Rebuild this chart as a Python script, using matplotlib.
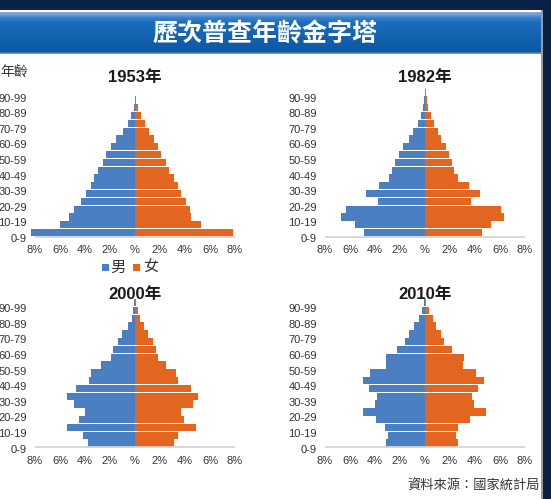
import numpy as np
import matplotlib
matplotlib.use("Agg")
import matplotlib.pyplot as plt
from matplotlib.patches import Rectangle

W, H = 551, 499

# ---------------- data ----------------
age_labels = ['0-9', '10-19', '20-29', '30-39', '40-49',
              '50-59', '60-69', '70-79', '80-89', '90-99']
x_tick_values = [-8, -6, -4, -2, 0, 2, 4, 6, 8]
x_tick_labels = ['8%', '6%', '4%', '2%', '%', '2%', '4%', '6%', '8%']

# 5-year groups 0-4 ... 95-99, percent of total population
male_1953 = [8.3, 6.0, 5.3, 4.9, 4.3, 3.9, 3.5, 3.3, 3.0, 2.6,
             2.3, 1.9, 1.5, 1.0, 0.6, 0.3, 0.12, 0.04, 0.01, 0.005]
female_1953 = [7.8, 5.25, 4.45, 4.4, 4.1, 3.7, 3.4, 3.1, 2.7, 2.5,
               2.1, 1.8, 1.5, 1.1, 0.8, 0.5, 0.25, 0.1, 0.03, 0.01]

male_1982 = [4.85, 5.6, 6.7, 6.3, 3.8, 4.7, 3.7, 2.85, 2.65, 2.4,
             2.1, 1.75, 1.3, 0.95, 0.6, 0.32, 0.18, 0.08, 0.03, 0.01]
female_1982 = [4.56, 5.3, 6.35, 6.1, 3.7, 4.4, 3.5, 2.6, 2.35, 2.15,
               1.95, 1.7, 1.3, 1.0, 0.7, 0.45, 0.25, 0.12, 0.04, 0.01]

male_2000 = [3.8, 4.2, 5.4, 4.45, 4.0, 4.9, 5.4, 4.7, 3.65, 3.5,
             2.7, 1.9, 1.8, 1.4, 1.05, 0.6, 0.27, 0.13, 0.05, 0.01]
female_2000 = [3.15, 3.4, 4.9, 3.95, 3.7, 4.6, 5.05, 4.5, 3.45, 3.3,
               2.5, 1.85, 1.7, 1.4, 1.05, 0.7, 0.4, 0.2, 0.07, 0.02]

male_2010 = [3.15, 3.0, 3.2, 3.95, 5.0, 4.0, 3.85, 4.5, 4.95, 4.4,
             3.15, 3.15, 2.25, 1.6, 1.25, 0.85, 0.5, 0.22, 0.07, 0.02]
female_2010 = [2.65, 2.45, 2.65, 3.6, 4.85, 3.9, 3.75, 4.25, 4.7, 4.1,
               3.05, 3.1, 2.15, 1.55, 1.25, 0.9, 0.6, 0.3, 0.1, 0.03]

years = ['1953年', '1982年', '2000年', '2010年']
males = [male_1953, male_1982, male_2000, male_2010]
females = [female_1953, female_1982, female_2000, female_2010]

MALE_C = '#4a7fc1'
FEMALE_C = '#e2661f'
NAVY = '#0b2148'
TXT = '#333333'
LATIN = ['Liberation Sans', 'Noto Sans CJK TC']
CJK = ['Noto Sans CJK TC', 'DejaVu Sans']

fig = plt.figure(figsize=(W / 100, H / 100), dpi=100)
fig.patch.set_facecolor(NAVY)


def fx(x):
    return x / W


def fy(y):
    return 1 - y / H


def rect_px(x0, y0, x1, y1, color, z=0):
    fig.add_artist(Rectangle((fx(x0), fy(y1)), (x1 - x0) / W, (y1 - y0) / H,
                             transform=fig.transFigure, facecolor=color,
                             edgecolor='none', zorder=z))


# white panel + right grey border
rect_px(0, 10, 541, 499, 'white', z=0)
rect_px(541, 10, 543, 499, '#9a9a9a', z=0)

# title bar with gradient (y 12 .. 54 px)
tax = fig.add_axes([fx(0), fy(54), 541 / W, (54 - 12) / H])
n = 42
stops = [(0.0, (0x8a, 0xa6, 0xc8)),
         (0.05, (0x6d, 0xa2, 0xdc)),
         (0.12, (0x3c, 0x82, 0xcc)),
         (0.25, (0x1a, 0x6c, 0xbc)),
         (0.95, (0x0c, 0x58, 0xa2)),
         (1.0, (0x6a, 0x92, 0xc4))]
grad = np.zeros((n, 1, 3))
for i in range(n):
    t = i / (n - 1)
    for j in range(len(stops) - 1):
        t0, c0 = stops[j]
        t1, c1 = stops[j + 1]
        if t0 <= t <= t1:
            u = (t - t0) / (t1 - t0) if t1 > t0 else 0
            grad[i, 0] = (np.array(c0) + (np.array(c1) - np.array(c0)) * u) / 255
            break
tax.imshow(grad, aspect='auto', extent=[0, 1, 0, 1], interpolation='nearest')
tax.set_axis_off()
fig.text(fx(265), fy(34), '歷次普查年齡金字塔', color='white', fontsize=18,
         fontweight='bold', family=CJK, ha='center', va='center', zorder=5)

# pyramids
scale = 12.5      # px per 1 %
pitch = 7.8       # px per 5-year row
xlim = (-8.3, 8.3)
ylim = (-1.0, 19.5)
centers_x = [135, 425, 135, 425]
baselines = [236.5, 236.5, 447, 447]
title_y = [77.5, 77.5, 295, 295]

for k in range(4):
    cx, base = centers_x[k], baselines[k]
    left = cx + xlim[0] * scale
    width = (xlim[1] - xlim[0]) * scale
    ybot = base + (-0.5 - ylim[0]) * pitch
    ytop = base - (ylim[1] + 0.5) * pitch
    ax = fig.add_axes([fx(left), fy(ybot), width / W, (ybot - ytop) / H])
    ax.set_facecolor('none')
    rows = np.arange(len(males[k]))
    ax.barh(rows, -np.array(males[k]), height=0.93, color=MALE_C, linewidth=0)
    ax.barh(rows, np.array(females[k]), height=0.93, color=FEMALE_C, linewidth=0)
    ax.plot([-8, 8], [-0.5, -0.5], color='#d4d4d4', lw=1.3, zorder=3,
            clip_on=False, solid_capstyle='butt')
    ax.set_xlim(*xlim)
    ax.set_ylim(*ylim)
    ax.set_yticks(np.arange(0, 20, 2) - 0.7)
    ax.set_yticklabels(age_labels, family=LATIN, fontsize=8, color=TXT)
    ax.set_xticks(x_tick_values)
    ax.set_xticklabels(x_tick_labels, family=LATIN, fontsize=8, color=TXT)
    ax.tick_params(axis='y', length=0, pad=3)
    ax.tick_params(axis='x', length=0, pad=3.5)
    for s in ax.spines.values():
        s.set_visible(False)
    fig.text(fx(cx), fy(title_y[k]), years[k], family=LATIN, fontsize=12,
             fontweight='bold', color='#1a1a1a', ha='center', va='center')

# y-axis caption
fig.text(fx(0), fy(71.5), '年齡', family=CJK, fontsize=10, color=TXT,
         ha='left', va='center')

# legend
rect_px(101.5, 263.5, 108.5, 270.5, MALE_C, z=5)
fig.text(fx(110), fy(267.5), '男', family=CJK, fontsize=11, color=TXT,
         ha='left', va='center')
rect_px(133, 263.5, 140, 270.5, FEMALE_C, z=5)
fig.text(fx(143.5), fy(267.5), '女', family=CJK, fontsize=11, color=TXT,
         ha='left', va='center')

# source
fig.text(fx(540), fy(486.5), '資料來源：國家統計局', family=CJK, fontsize=9.5,
         color=TXT, ha='right', va='center')

fig.savefig('out.png', dpi=100, facecolor=fig.get_facecolor())
